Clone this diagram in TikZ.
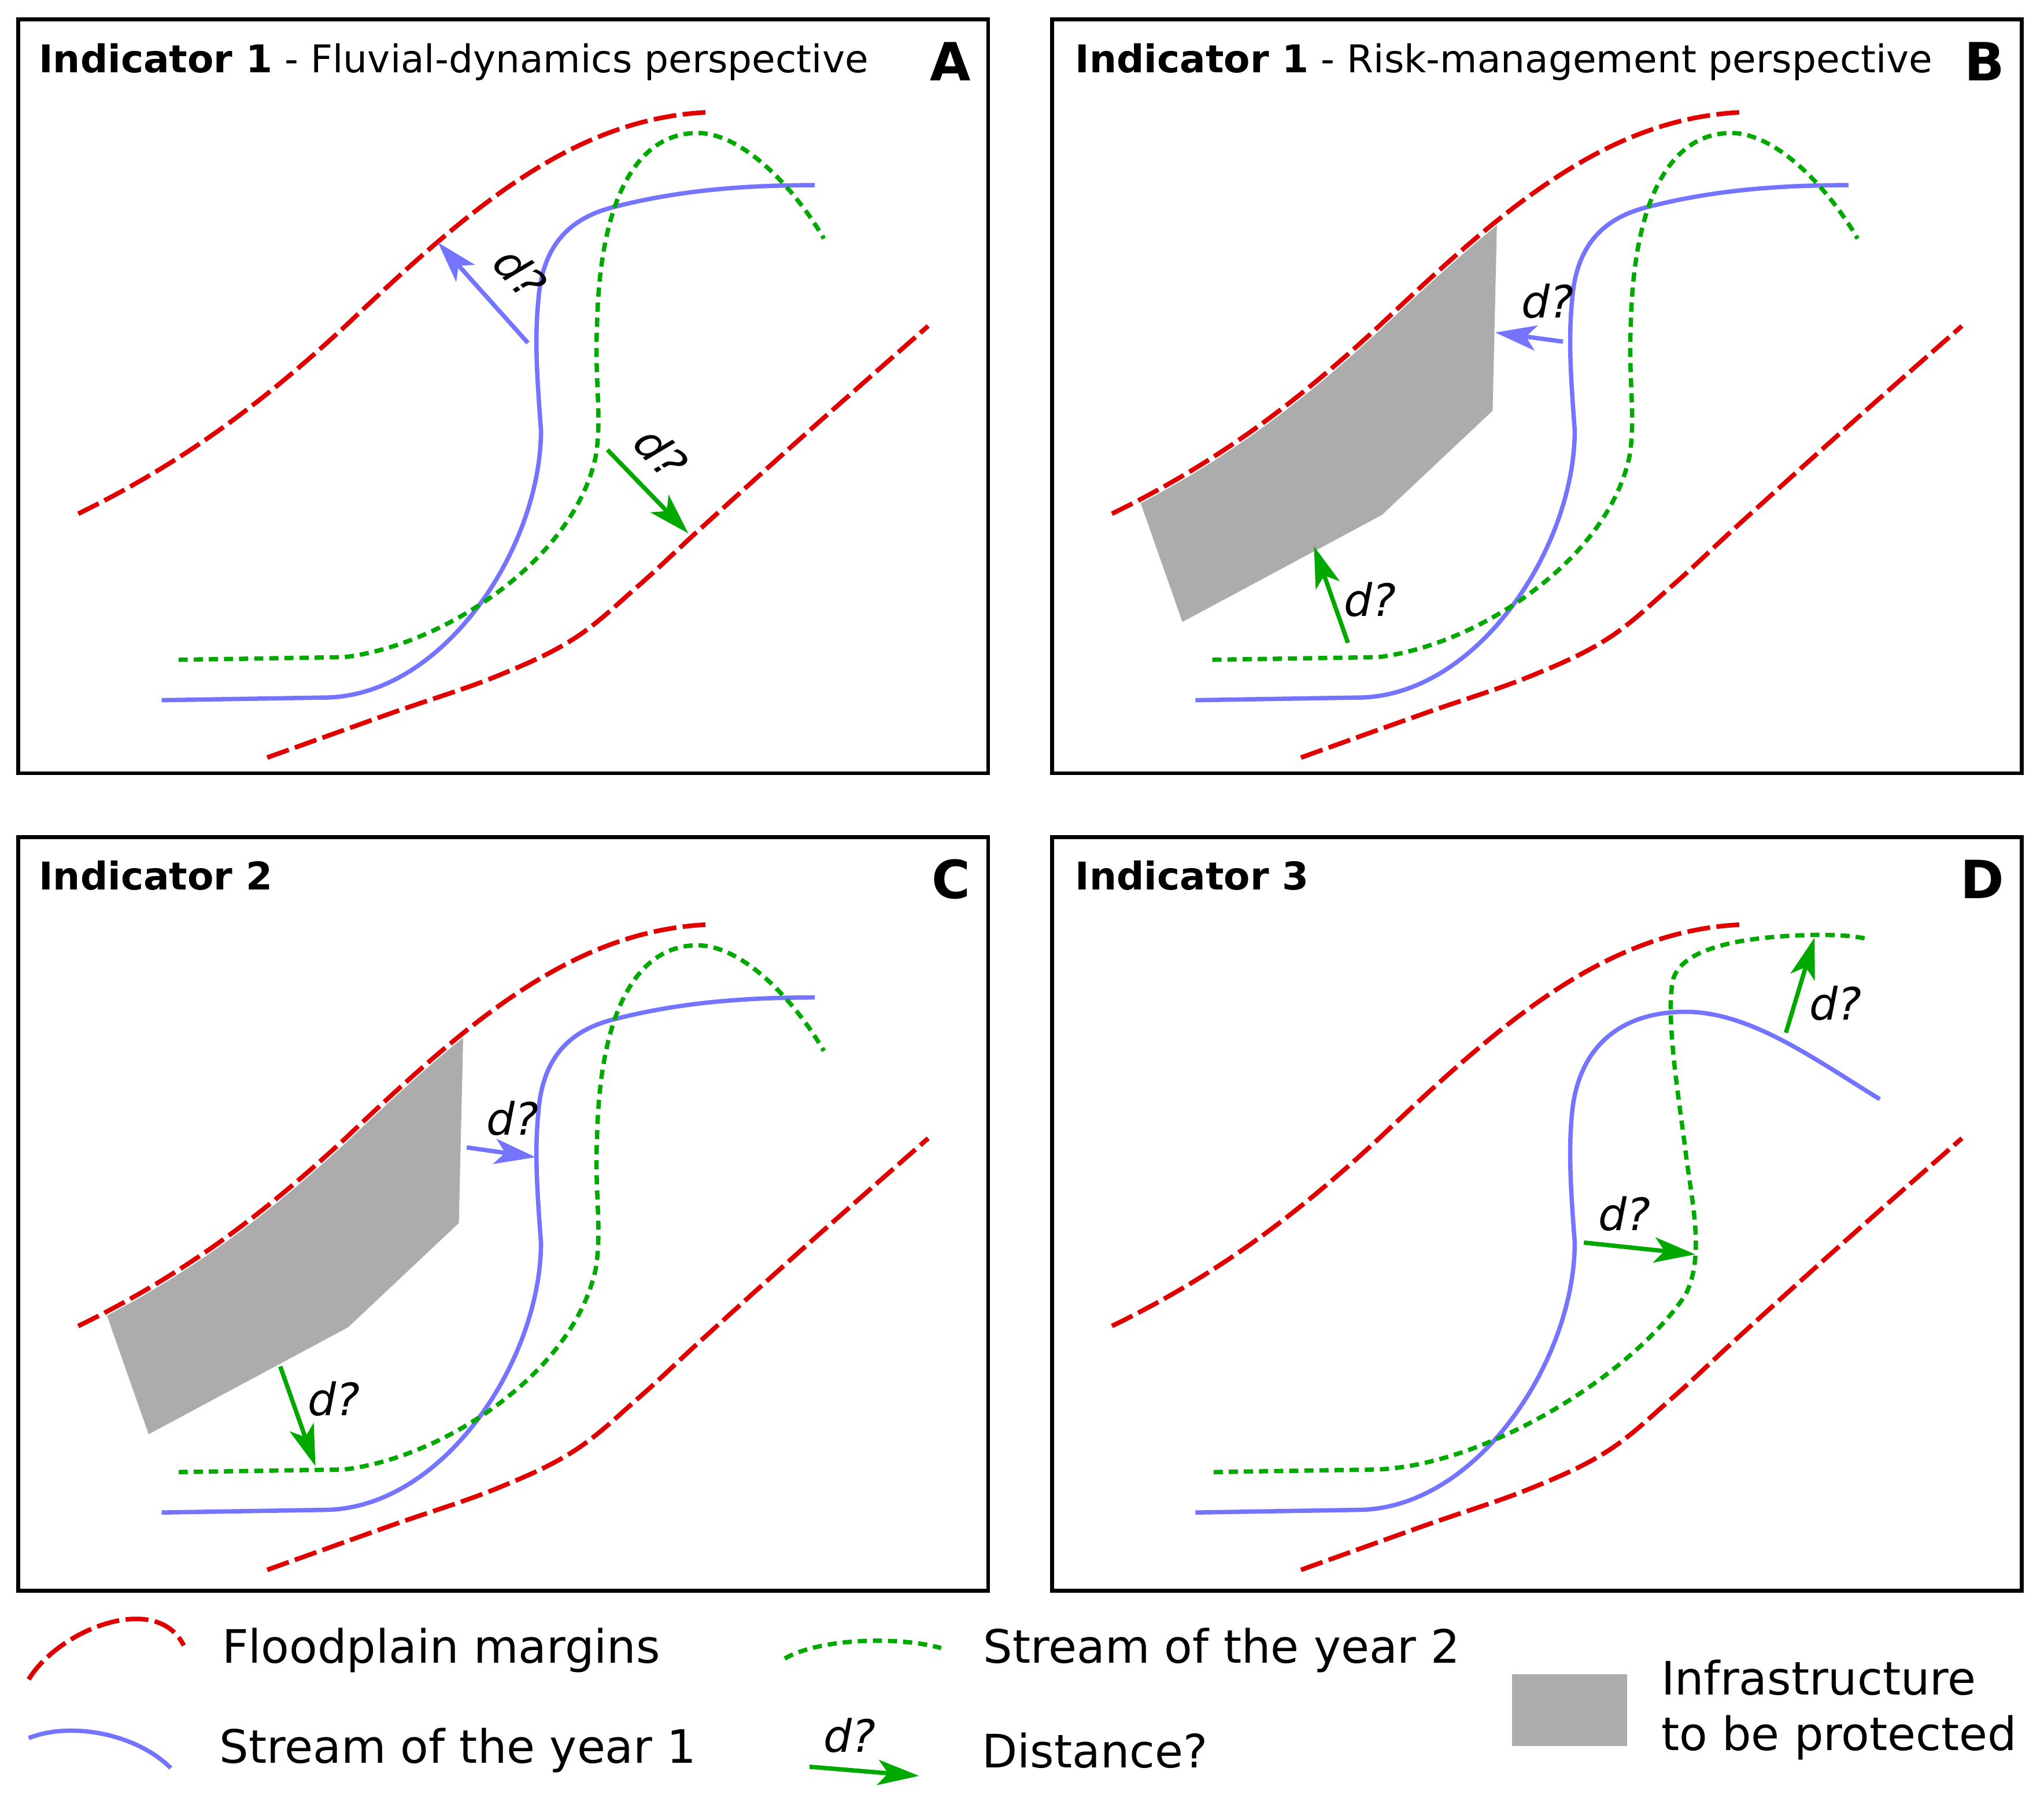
\documentclass[tikz,border=0pt]{standalone}
\usepackage{fontspec}
\setmainfont{DejaVu Sans}
\usetikzlibrary{arrows.meta}
\definecolor{bankred}{HTML}{E00000}
\definecolor{yearoneblue}{HTML}{7474FF}
\definecolor{yeartwogreen}{HTML}{00A800}
\definecolor{infragray}{HTML}{ACACAC}

% shared river shapes (local panel coordinates)
\newcommand{\upperbank}{(60,394) .. controls (140,355) and (200,310) .. (265,250) .. controls (360,160) and (440,90) .. (545,86)}
\newcommand{\lowerbank}{plot[smooth, tension=0.6] coordinates {(205,581) (300,547) (380,519) (440,490) (490,449) (540,403) (620,331) (712,250)}}
\newcommand{\yearonepath}{(124,537) -- (248,535) .. controls (340,535) and (415,420) .. (415,330) .. controls (412,290) and (410,260) .. (413,230) .. controls (416,190) and (435,168) .. (470,159) .. controls (520,146) and (570,142) .. (625,142)}
\newcommand{\yeartwopath}{(137,506) -- (264,504) .. controls (340,495) and (440,430) .. (457,350) .. controls (462,320) and (456,290) .. (458,250) .. controls (460,150) and (490,102) .. (535,102) .. controls (570,102) and (610,145) .. (632,183)}
\newcommand{\yearonebend}{(124,537) -- (248,535) .. controls (340,535) and (415,420) .. (415,330) .. controls (412,290) and (410,260) .. (413,230) .. controls (418,180) and (450,153) .. (500,153) .. controls (550,153) and (600,190) .. (649,220)}
\newcommand{\yeartwobend}{(138,506) -- (264,504) .. controls (350,500) and (460,430) .. (500,370) .. controls (515,340) and (505,300) .. (500,260) .. controls (495,220) and (485,160) .. (490,130) .. controls (495,105) and (540,95) .. (600,94) .. controls (620,94) and (630,95) .. (639,97)}
\newcommand{\infrashape}{%
  \begin{scope}
    \clip \upperbank -- (545,600) -- (60,600) -- cycle;
    \fill[infra] (74,363) -- (357,100) -- (352,315) -- (267,395) -- (114,477) -- cycle;
  \end{scope}}

\tikzset{
  panel/.style={draw=black, line width=1.7pt},
  bank/.style={draw=bankred, line width=2pt, dash pattern=on 10pt off 2.8pt,
    preaction={draw=white, solid, line width=3.1pt}},
  yearone/.style={draw=yearoneblue, line width=1.9pt},
  yeartwo/.style={draw=yeartwogreen, line width=1.9pt, dash pattern=on 4pt off 2.6pt},
  infra/.style={fill=infragray},
  distblue/.style={draw=yearoneblue, line width=1.9pt, -{Stealth[length=18pt, width=11pt, inset=4.5pt]}},
  distgreen/.style={draw=yeartwogreen, line width=1.9pt, -{Stealth[length=18pt, width=11pt, inset=4.5pt]}},
  dlabel/.style={inner sep=0pt, font=\fontsize{19.5}{22}\selectfont\itshape},
  paneltitle/.style={anchor=base west, inner sep=0pt, font=\fontsize{16.7}{20}\selectfont},
  panelletter/.style={anchor=base east, inner sep=0pt, font=\fontsize{23}{26}\selectfont\bfseries},
  legendtext/.style={anchor=base west, inner sep=0pt, font=\fontsize{20.1}{24}\selectfont}
}

\begin{document}
\begin{tikzpicture}[x=0.02cm, y=-0.02cm]
\useasboundingbox (0,0) rectangle (1568,1384);

% A
\begin{scope}
  \draw[panel] (14,15) rectangle (758,593);
  \node[paneltitle] (tA) at (29.5,55.5) {\textbf{Indicator 1} - Fluvial-dynamics perspective};
  \node[panelletter] (lA) at (745,62) {A};
  \draw[bank] \upperbank;
  \draw[bank] \lowerbank;
  \draw[yearone] \yearonepath;
  \draw[yeartwo] \yeartwopath;
  \coordinate (a1s) at (405,263);
  \coordinate (a1e) at (336,186);
  \draw[distblue] (a1s) -- (a1e);
  \node[dlabel, rotate=-48] (d1) at (399,209) {d?};
  \coordinate (a2s) at (466,345);
  \coordinate (a2e) at (528,409);
  \draw[distgreen] (a2s) -- (a2e);
  \node[dlabel, rotate=-48] (d2) at (507,347) {d?};
\end{scope}

% B
\begin{scope}[shift={(793,0)}]
  \draw[panel] (14,15) rectangle (758,593);
  \node[paneltitle] (tB) at (31.5,55.5) {\textbf{Indicator 1} - Risk-management perspective};
  \node[panelletter] (lB) at (745,62) {B};
  \infrashape
  \draw[bank] \upperbank;
  \draw[bank] \lowerbank;
  \draw[yearone] \yearonepath;
  \draw[yeartwo] \yeartwopath;
  \coordinate (b1s) at (406,262);
  \coordinate (b1e) at (354,255);
  \draw[distblue] (b1s) -- (b1e);
  \node[dlabel] (d3) at (394,231) {d?};
  \coordinate (b2s) at (241,493);
  \coordinate (b2e) at (215,419);
  \draw[distgreen] (b2s) -- (b2e);
  \node[dlabel] (d4) at (258,460) {d?};
\end{scope}

% C
\begin{scope}[shift={(0,623)}]
  \draw[panel] (14,19) rectangle (758,597);
  \node[paneltitle] (tC) at (29.5,59.5) {\textbf{Indicator 2}};
  \node[panelletter] (lC) at (745,66) {C};
  \infrashape
  \draw[bank] \upperbank;
  \draw[bank] \lowerbank;
  \draw[yearone] \yearonepath;
  \draw[yeartwo] \yeartwopath;
  \coordinate (c1s) at (358,257);
  \coordinate (c1e) at (411,264.5);
  \draw[distblue] (c1s) -- (c1e);
  \node[dlabel] (d5) at (393,234.5) {d?};
  \coordinate (c2s) at (215,425);
  \coordinate (c2e) at (242,501.5);
  \draw[distgreen] (c2s) -- (c2e);
  \node[dlabel] (d6) at (256,450) {d?};
\end{scope}

% D
\begin{scope}[shift={(793,623)}]
  \draw[panel] (14,19) rectangle (758,597);
  \node[paneltitle] (tD) at (31.5,59.5) {\textbf{Indicator 3}};
  \node[panelletter] (lD) at (745,66) {D};
  \draw[bank] \upperbank;
  \draw[bank] \lowerbank;
  \draw[yearone] \yearonebend;
  \draw[yeartwo] \yeartwobend;
  \coordinate (e1s) at (577,169);
  \coordinate (e1e) at (599,96);
  \draw[distgreen] (e1s) -- (e1e);
  \node[dlabel] (d7) at (615,146.6) {d?};
  \coordinate (e2s) at (422,330);
  \coordinate (e2e) at (507.5,339);
  \draw[distgreen] (e2s) -- (e2e);
  \node[dlabel] (d8) at (453,308) {d?};
\end{scope}

% legend
\draw[bank] (22,1288) .. controls (45,1250) and (120,1220) .. (141,1262);
\node[legendtext] (lgF) at (170,1275.3) {Floodplain margins};
\draw[yearone] (22,1333) .. controls (55,1320) and (105,1330) .. (131,1356);
\node[legendtext] (lgS1) at (168,1352.2) {Stream of the year 1};
\draw[yeartwo] (602,1272) .. controls (630,1256) and (690,1255) .. (722,1264);
\node[legendtext] (lgS2) at (754,1275.3) {Stream of the year 2};
\node[dlabel] (lgd) at (652,1331) {d?};
\coordinate (lgas) at (621,1355);
\coordinate (lgae) at (705,1362);
\draw[distgreen] (lgas) -- (lgae);
\node[legendtext] (lgD) at (753,1355.6) {Distance?};
\fill[infra] (1160,1284) rectangle (1248,1339);
\node[legendtext] (lgI1) at (1274,1299.7) {Infrastructure};
\node[legendtext] (lgI2) at (1274,1342.6) {to be protected};

\end{tikzpicture}
\end{document}
